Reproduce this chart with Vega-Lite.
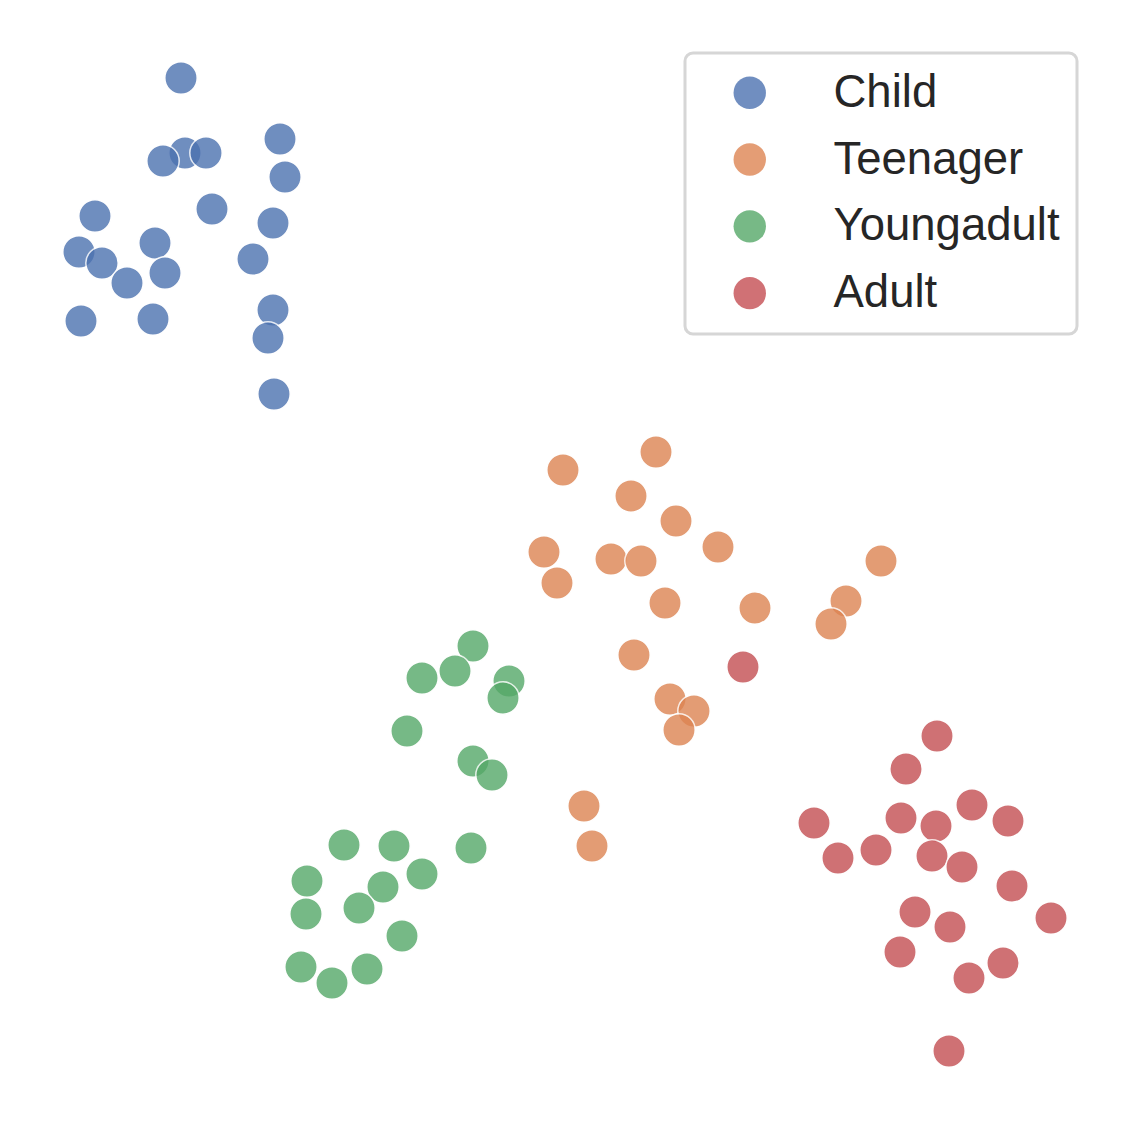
{
  "$schema": "https://vega.github.io/schema/vega-lite/v6.json",
  "width": 1130,
  "height": 1130,
  "autosize": "none",
  "padding": 0,
  "background": "white",
  "config": {"view": {"stroke": null}, "legend": {"strokeWidth": 3}},
  "data": {"values": [
    {"x":181,"y":78,"g":"Child"},{"x":185,"y":153,"g":"Child"},{"x":206,"y":153,"g":"Child"},{"x":163,"y":161,"g":"Child"},{"x":280,"y":139,"g":"Child"},{"x":285,"y":177,"g":"Child"},{"x":212,"y":209,"g":"Child"},{"x":95,"y":216,"g":"Child"},{"x":273,"y":223,"g":"Child"},{"x":155,"y":243,"g":"Child"},{"x":79,"y":252,"g":"Child"},{"x":102,"y":263,"g":"Child"},{"x":165,"y":273,"g":"Child"},{"x":127,"y":283,"g":"Child"},{"x":253,"y":259,"g":"Child"},{"x":81,"y":321,"g":"Child"},{"x":153,"y":319,"g":"Child"},{"x":273,"y":310,"g":"Child"},{"x":268,"y":338,"g":"Child"},{"x":274,"y":394,"g":"Child"},
    {"x":656,"y":452,"g":"Teenager"},{"x":563,"y":470,"g":"Teenager"},{"x":631,"y":496,"g":"Teenager"},{"x":676,"y":521,"g":"Teenager"},{"x":544,"y":552,"g":"Teenager"},{"x":718,"y":547,"g":"Teenager"},{"x":611,"y":559,"g":"Teenager"},{"x":641,"y":561,"g":"Teenager"},{"x":557,"y":583,"g":"Teenager"},{"x":881,"y":561,"g":"Teenager"},{"x":665,"y":603,"g":"Teenager"},{"x":755,"y":608,"g":"Teenager"},{"x":846,"y":601,"g":"Teenager"},{"x":831,"y":624,"g":"Teenager"},{"x":634,"y":655,"g":"Teenager"},{"x":670,"y":699,"g":"Teenager"},{"x":694,"y":711,"g":"Teenager"},{"x":679,"y":730,"g":"Teenager"},{"x":584,"y":806,"g":"Teenager"},{"x":592,"y":846,"g":"Teenager"},
    {"x":473,"y":646,"g":"Youngadult"},{"x":455,"y":671,"g":"Youngadult"},{"x":422,"y":678,"g":"Youngadult"},{"x":509,"y":681,"g":"Youngadult"},{"x":503,"y":698,"g":"Youngadult"},{"x":407,"y":731,"g":"Youngadult"},{"x":473,"y":761,"g":"Youngadult"},{"x":492,"y":775,"g":"Youngadult"},{"x":344,"y":845,"g":"Youngadult"},{"x":394,"y":846,"g":"Youngadult"},{"x":471,"y":848,"g":"Youngadult"},{"x":422,"y":874,"g":"Youngadult"},{"x":307,"y":881,"g":"Youngadult"},{"x":383,"y":887,"g":"Youngadult"},{"x":306,"y":914,"g":"Youngadult"},{"x":359,"y":908,"g":"Youngadult"},{"x":402,"y":936,"g":"Youngadult"},{"x":301,"y":967,"g":"Youngadult"},{"x":367,"y":969,"g":"Youngadult"},{"x":332,"y":983,"g":"Youngadult"},
    {"x":743,"y":667,"g":"Adult"},{"x":937,"y":736,"g":"Adult"},{"x":906,"y":769,"g":"Adult"},{"x":814,"y":823,"g":"Adult"},{"x":901,"y":818,"g":"Adult"},{"x":972,"y":805,"g":"Adult"},{"x":1008,"y":821,"g":"Adult"},{"x":936,"y":826,"g":"Adult"},{"x":838,"y":858,"g":"Adult"},{"x":876,"y":850,"g":"Adult"},{"x":932,"y":856,"g":"Adult"},{"x":962,"y":867,"g":"Adult"},{"x":1012,"y":886,"g":"Adult"},{"x":915,"y":912,"g":"Adult"},{"x":950,"y":927,"g":"Adult"},{"x":1051,"y":918,"g":"Adult"},{"x":900,"y":952,"g":"Adult"},{"x":1003,"y":963,"g":"Adult"},{"x":969,"y":978,"g":"Adult"},{"x":949,"y":1051,"g":"Adult"}
  ]},
  "mark": {"type": "circle", "size": 1050, "opacity": 0.8, "stroke": "white", "strokeWidth": 1.5, "strokeOpacity": 1},
  "encoding": {
    "x": {"field": "x", "type": "quantitative", "scale": {"domain": [0, 1130], "nice": false, "zero": false}, "axis": null},
    "y": {"field": "y", "type": "quantitative", "scale": {"domain": [0, 1130], "nice": false, "zero": false, "reverse": true}, "axis": null},
    "color": {
      "field": "g", "type": "nominal",
      "scale": {"domain": ["Child", "Teenager", "Youngadult", "Adult"], "range": ["#4c72b0", "#dd8452", "#55a868", "#c44e52"]},
      "legend": {
        "title": null,
        "orient": "none",
        "legendX": 685,
        "legendY": 53,
        "padding": 17,
        "symbolSize": 1050,
        "symbolType": "circle",
        "symbolOpacity": 0.8,
        "symbolStrokeWidth": 0,
        "symbolOffset": 25,
        "labelOffset": 61,
        "labelFontSize": 45.5,
        "labelFont": "Liberation Sans",
        "labelLimit": 500,
        "labelColor": "#262626",
        "rowPadding": 19.8,
        "strokeColor": "#d6d6d6",
        "cornerRadius": 8,
        "fillColor": "white"
      }
    }
  }
}
